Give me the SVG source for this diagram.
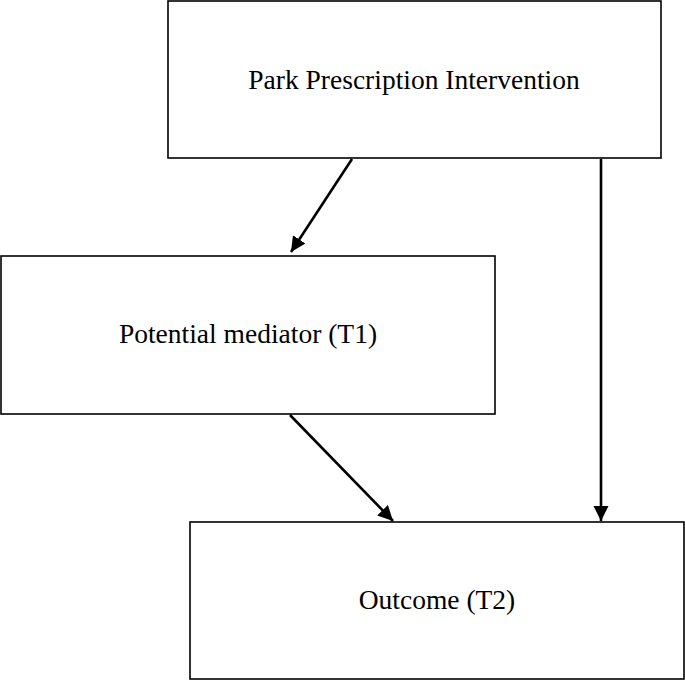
<svg xmlns="http://www.w3.org/2000/svg" width="685" height="681" viewBox="0 0 685 681">
<style>
.box{fill:#fff;stroke:#000;stroke-width:1.6}
.lbl{font-family:"Liberation Serif","Times New Roman",serif;font-size:27.5px;fill:#000;text-anchor:middle}
.edge{stroke:#000;stroke-width:2.6;fill:none}
</style>
<defs>
<marker id="ah" markerUnits="userSpaceOnUse" markerWidth="16" markerHeight="16" refX="15" refY="7.5" orient="auto">
<path d="M0,0 L15,7.5 L0,15 z" fill="#000"/>
</marker>
</defs>
<rect width="685" height="681" fill="#fff"/>
<g id="n1"><rect class="box" x="168" y="1" width="493" height="157"/><text class="lbl" x="414" y="89">Park Prescription Intervention</text></g>
<g id="n2"><rect class="box" x="1" y="256" width="494" height="158"/><text class="lbl" x="248" y="343">Potential mediator (T1)</text></g>
<g id="n3"><rect class="box" x="190" y="522" width="494" height="157"/><text class="lbl" x="437" y="609">Outcome (T2)</text></g>
<g id="edges">
<line class="edge" x1="352" y1="159" x2="291" y2="252" marker-end="url(#ah)"/>
<line class="edge" x1="601" y1="159" x2="601" y2="521" marker-end="url(#ah)"/>
<line class="edge" x1="290" y1="415" x2="393" y2="521" marker-end="url(#ah)"/>
</g>
</svg>
